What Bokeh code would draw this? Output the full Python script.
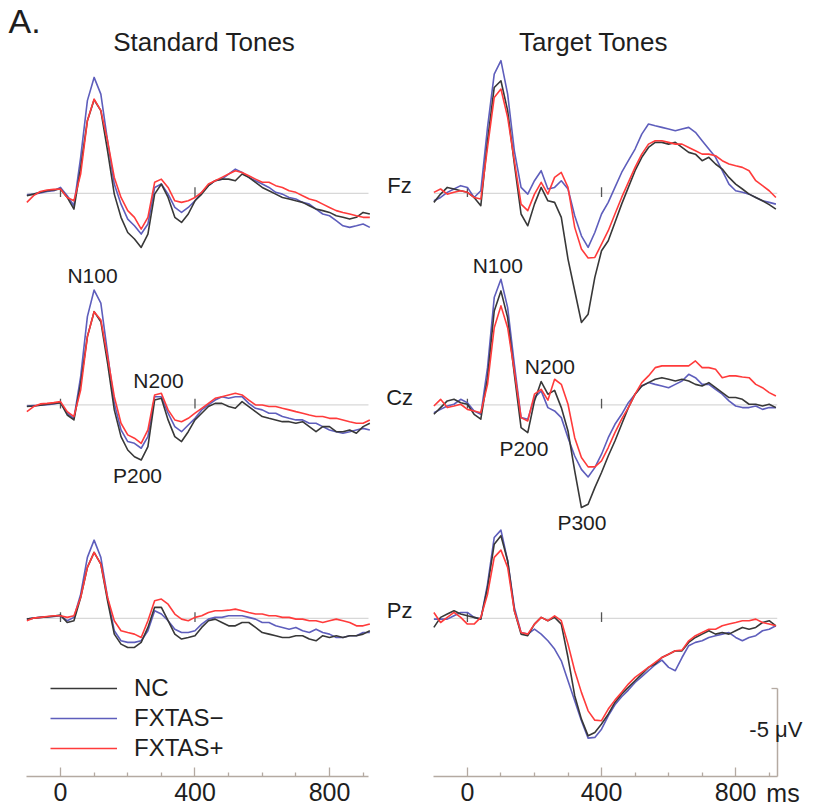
import numpy as np
from bokeh.plotting import figure
from bokeh.layouts import row
from bokeh.models import Range1d, LinearAxis, FixedTicker, Label, Legend, LegendItem
from bokeh.embed import file_html
from bokeh.resources import INLINE

# ---------------- data (µV) ----------------
TIME_MS = list(range(-100, 921, 20))
GROUP_LABELS = ["NC", "FXTAS\u2212", "FXTAS+"]
CHANNELS = ["Fz", "Cz", "Pz"]
X_TICKS = [0, 400, 800]
X_MINOR_TICKS = [100, 200, 300, 500, 600, 700, 900]
BASELINE_MARKS = [0, 400]
SCALE_UV = 5

# Standard tones
STD_FZ_NC = [0.13, 0.04, -0.06, -0.15, -0.19, -0.25, 0.23, 0.89, -1.48, -4.13, -5.32, -4.70, -2.42, 0.04, 1.36, 2.22, 2.59, 3.07, 2.31, 0.04, -0.53, 0.23, 1.36, 1.65, 1.17, 0.42, 0.04, -0.44, -0.72, -0.81, -0.81, -0.72, -1.10, -0.91, -0.63, -0.34, -0.15, 0.04, 0.23, 0.32, 0.42, 0.51, 0.70, 0.89, 0.98, 1.08, 1.27, 1.36, 1.46, 1.36, 1.08, 1.17]
STD_FZ_FXN = [0.08, 0.04, -0.02, -0.11, -0.15, -0.34, 0.13, 0.70, -2.05, -5.27, -6.59, -5.64, -2.99, -0.53, 0.61, 1.46, 1.84, 2.31, 1.74, -0.34, -0.53, 0.04, 0.80, 1.08, 0.80, 0.42, -0.06, -0.44, -0.72, -0.81, -1.10, -1.38, -1.19, -0.91, -0.72, -0.53, -0.34, -0.06, 0.04, 0.23, 0.32, 0.51, 0.61, 0.89, 1.17, 1.27, 1.55, 1.84, 1.93, 1.84, 1.74, 1.93]
STD_FZ_FXP = [0.51, 0.13, -0.11, -0.19, -0.23, -0.25, 0.23, 0.42, -1.10, -4.13, -5.36, -4.70, -2.99, -0.91, 0.23, 0.98, 1.36, 2.03, 1.36, -0.63, -0.81, -0.34, 0.42, 0.51, 0.42, 0.23, -0.06, -0.53, -0.72, -0.91, -1.10, -1.29, -1.19, -1.00, -0.81, -0.63, -0.63, -0.44, -0.34, -0.15, -0.06, 0.13, 0.32, 0.42, 0.61, 0.80, 0.98, 1.08, 1.17, 1.27, 1.36, 1.36]

STD_CZ_NC = [0.09, 0.06, 0.02, -0.04, -0.09, -0.13, 0.57, 0.85, -1.23, -3.88, -5.30, -4.73, -2.37, 0.28, 1.80, 2.56, 2.94, 3.13, 2.37, -0.28, -0.38, 0.85, 1.80, 2.08, 1.52, 0.85, 0.47, 0.09, -0.09, -0.09, 0.09, 0.19, -0.19, 0.09, 0.38, 0.66, 0.76, 0.85, 0.95, 0.95, 1.04, 0.95, 1.23, 1.52, 1.23, 1.23, 1.52, 1.52, 1.42, 1.61, 1.23, 1.04]
STD_CZ_FXN = [0.06, 0.04, 0.02, -0.02, -0.06, -0.13, 0.47, 0.76, -1.61, -5.02, -6.53, -5.78, -2.94, -0.09, 1.42, 2.08, 2.18, 2.46, 1.80, -0.47, -0.47, 0.47, 1.23, 1.52, 1.14, 0.76, 0.28, 0.00, -0.28, -0.47, -0.38, -0.47, -0.47, -0.09, 0.19, 0.28, 0.47, 0.47, 0.66, 0.76, 0.85, 0.85, 1.04, 1.04, 1.23, 1.42, 1.52, 1.61, 1.52, 1.42, 1.33, 1.42]
STD_CZ_FXP = [0.38, 0.09, -0.06, -0.09, -0.13, -0.19, 0.38, 0.66, -0.85, -3.88, -5.30, -4.83, -2.75, -0.47, 1.04, 1.70, 1.89, 2.18, 1.42, -0.57, -0.66, 0.28, 0.85, 0.95, 0.76, 0.47, 0.19, -0.09, -0.38, -0.47, -0.57, -0.66, -0.57, -0.28, 0.00, 0.00, 0.09, 0.09, 0.19, 0.28, 0.38, 0.47, 0.57, 0.66, 0.66, 0.76, 0.76, 0.85, 0.95, 1.04, 1.04, 0.85]

STD_PZ_NC = [0.04, -0.02, -0.06, -0.09, -0.13, -0.19, 0.23, 0.13, -1.19, -2.90, -3.75, -3.09, -1.00, 0.89, 1.46, 1.65, 1.65, 1.36, 0.51, -0.63, -0.63, 0.13, 0.89, 1.17, 1.08, 0.98, 0.51, 0.13, 0.04, 0.23, 0.42, 0.42, 0.23, 0.23, 0.51, 0.80, 0.89, 0.98, 1.08, 1.08, 0.98, 0.98, 1.17, 1.27, 0.98, 1.08, 0.98, 1.08, 0.98, 0.98, 0.89, 0.70]
STD_PZ_FXN = [0.04, -0.02, -0.06, -0.09, -0.11, -0.15, 0.13, -0.06, -1.38, -3.47, -4.45, -3.47, -1.19, 0.70, 1.27, 1.36, 1.36, 1.27, 0.70, -0.44, -0.25, 0.13, 0.61, 0.80, 0.80, 0.70, 0.32, 0.04, -0.06, -0.06, -0.15, -0.15, -0.15, -0.06, 0.04, 0.23, 0.23, 0.42, 0.51, 0.61, 0.51, 0.70, 0.80, 0.61, 0.80, 0.89, 1.08, 1.08, 0.98, 0.98, 0.80, 0.80]
STD_PZ_FXP = [0.13, -0.02, -0.06, -0.11, -0.15, -0.15, -0.06, -0.15, -1.19, -2.90, -3.75, -3.09, -1.19, 0.13, 0.70, 0.80, 0.89, 1.08, 0.13, -1.00, -1.10, -0.81, -0.25, 0.04, 0.13, -0.06, -0.15, -0.34, -0.44, -0.44, -0.47, -0.53, -0.44, -0.34, -0.25, -0.25, -0.15, -0.15, -0.06, -0.06, 0.04, 0.04, 0.13, 0.13, 0.23, 0.13, 0.04, 0.13, 0.23, 0.42, 0.42, 0.32]

# Target tones
TGT_FZ_NC = [0.51, 0.04, -0.34, -0.25, -0.15, -0.06, 0.23, 0.70, -2.99, -6.02, -6.40, -4.70, -1.67, 1.17, 1.84, 0.61, -0.34, 0.42, 0.51, 1.36, 3.73, 5.53, 7.33, 6.86, 4.77, 3.26, 2.69, 1.65, 0.61, -0.34, -1.29, -2.05, -2.61, -2.90, -2.90, -2.80, -2.90, -2.61, -2.33, -2.23, -1.86, -2.05, -1.67, -1.38, -0.91, -0.53, -0.25, 0.04, 0.23, 0.42, 0.64, 0.89]
TGT_FZ_FXN = [0.42, 0.23, -0.06, -0.25, -0.44, -0.34, 0.23, -0.15, -3.75, -6.78, -7.54, -5.64, -2.42, -0.34, 0.04, -0.72, -1.29, -0.25, -0.34, -0.72, -0.25, 1.27, 2.41, 3.07, 2.22, 1.17, 0.51, -0.34, -1.19, -1.86, -2.52, -3.37, -3.94, -3.84, -3.75, -3.66, -3.56, -3.66, -3.75, -3.47, -2.99, -2.52, -2.05, -1.29, -0.53, -0.15, -0.06, 0.04, 0.23, 0.42, 0.51, 0.61]
TGT_FZ_FXP = [-0.06, -0.25, 0.04, -0.06, -0.15, -0.06, 0.23, 0.32, -2.61, -5.45, -5.93, -4.32, -1.86, 0.61, 0.98, 0.04, -0.63, 0.04, -0.91, -1.19, -0.34, 1.93, 3.16, 3.67, 3.64, 2.88, 2.12, 1.17, 0.23, -0.63, -1.48, -2.23, -2.80, -2.99, -2.99, -2.90, -2.80, -2.80, -2.61, -2.42, -2.23, -2.23, -2.14, -1.86, -1.67, -1.57, -1.48, -1.29, -0.72, -0.44, -0.15, 0.23]

TGT_CZ_NC = [0.53, 0.15, -0.23, -0.32, -0.13, -0.04, 0.53, 0.81, -1.55, -5.34, -6.48, -4.96, -1.74, 1.29, 1.57, -0.23, -1.33, -0.61, -0.83, 0.15, 1.48, 3.75, 5.83, 5.64, 4.70, 3.84, 2.90, 2.05, 1.10, 0.15, -0.61, -1.08, -1.27, -1.46, -1.55, -1.46, -1.36, -1.46, -1.36, -1.17, -1.08, -1.27, -0.98, -0.70, -0.42, -0.42, -0.32, -0.04, -0.04, 0.06, -0.04, 0.15]
TGT_CZ_FXN = [0.44, 0.25, 0.06, -0.04, -0.32, -0.13, 0.34, 0.53, -2.12, -6.10, -7.14, -5.53, -2.31, 0.72, 0.81, -0.42, -0.80, 0.15, 0.34, 0.72, 1.86, 2.90, 3.66, 4.09, 3.56, 2.80, 1.86, 1.10, 0.53, -0.13, -0.61, -1.08, -1.27, -1.17, -1.08, -0.98, -1.17, -1.36, -1.74, -1.55, -1.17, -1.17, -0.89, -0.61, -0.23, 0.06, 0.15, 0.15, 0.06, 0.25, 0.15, 0.15]
TGT_CZ_FXP = [0.06, -0.32, 0.15, 0.06, -0.04, 0.25, 0.34, 0.44, -1.17, -4.39, -5.63, -4.39, -1.93, 0.72, 0.91, -0.61, -0.89, -0.27, -1.46, -1.17, -0.04, 1.86, 2.99, 3.52, 3.52, 3.18, 2.42, 1.57, 0.81, 0.15, -0.61, -1.27, -1.65, -2.12, -2.22, -2.22, -2.22, -2.22, -2.22, -2.50, -2.12, -2.12, -2.03, -1.55, -1.65, -1.65, -1.59, -1.55, -1.17, -0.98, -0.70, -0.51]

TGT_PZ_NC = [0.51, -0.06, -0.25, -0.44, -0.25, -0.15, -0.06, 0.04, -1.76, -4.22, -4.70, -3.28, -0.44, 0.89, 0.98, 0.32, -0.06, 0.13, -0.06, 0.32, 2.22, 4.39, 5.72, 6.67, 6.48, 6.00, 5.44, 4.77, 4.30, 3.92, 3.54, 3.16, 2.78, 2.59, 2.22, 2.03, 1.84, 1.84, 1.36, 1.08, 0.89, 0.70, 0.89, 0.80, 0.89, 0.70, 0.51, 0.61, 0.51, 0.23, 0.13, 0.42]
TGT_PZ_FXN = [0.04, 0.04, 0.04, -0.15, -0.34, -0.34, -0.06, 0.04, -1.95, -4.60, -5.02, -3.28, -0.63, 0.80, 0.89, 0.61, 0.89, 1.27, 1.74, 2.41, 3.54, 4.68, 5.81, 6.80, 6.76, 6.29, 5.53, 4.91, 4.45, 4.07, 3.64, 3.31, 2.97, 2.63, 2.37, 2.78, 2.97, 2.22, 1.55, 1.36, 1.27, 1.08, 0.98, 0.89, 0.80, 1.08, 1.27, 1.08, 0.98, 0.70, 0.61, 0.42]
TGT_PZ_FXP = [-0.34, 0.23, -0.06, -0.34, -0.06, 0.32, 0.32, -0.06, -1.38, -3.47, -3.88, -2.90, -0.44, 0.80, 0.89, 0.32, -0.06, 0.13, -0.15, 0.13, 1.46, 2.97, 4.20, 5.25, 5.78, 5.81, 5.15, 4.64, 4.20, 3.73, 3.35, 3.07, 2.78, 2.50, 2.22, 2.03, 1.84, 1.80, 1.27, 0.98, 0.80, 0.61, 0.61, 0.42, 0.32, 0.23, 0.13, 0.13, 0.04, 0.23, 0.32, 0.42]

STANDARD = {"Fz": [STD_FZ_NC, STD_FZ_FXN, STD_FZ_FXP],
            "Cz": [STD_CZ_NC, STD_CZ_FXN, STD_CZ_FXP],
            "Pz": [STD_PZ_NC, STD_PZ_FXN, STD_PZ_FXP]}
TARGET = {"Fz": [TGT_FZ_NC, TGT_FZ_FXN, TGT_FZ_FXP],
          "Cz": [TGT_CZ_NC, TGT_CZ_FXN, TGT_CZ_FXP],
          "Pz": [TGT_PZ_NC, TGT_PZ_FXN, TGT_PZ_FXP]}

# ---------------- layout / style ----------------
FONT = "Liberation Sans"
TXT = "#1e1e1e"
AXIS_COLOR = "#b4aaa2"
COLORS = ["#383838", "#5e5ebc", "#ff3b3b"]
DRAW_ORDER = [1, 0, 2]
OFFSET = {"Fz": 33.13, "Cz": 21.11, "Pz": 8.98}   # vertical stacking of channels
Y_RANGE = (-1.705, 44.09)
H = 806


def make_panel(width, x_range, bounds, data):
    p = figure(width=width, height=H, x_range=Range1d(*x_range), y_range=Range1d(*Y_RANGE),
               output_backend="svg", toolbar_location=None, y_axis_location=None,
               min_border_left=0, min_border_right=0, min_border_top=0, min_border_bottom=0)
    p.grid.visible = False
    p.outline_line_color = None
    p.background_fill_color = "white"
    p.border_fill_color = "white"
    xa = p.xaxis[0]
    xa.fixed_location = 0
    xa.bounds = bounds
    xa.ticker = FixedTicker(ticks=X_TICKS, minor_ticks=X_MINOR_TICKS)
    xa.axis_line_color = AXIS_COLOR
    xa.axis_line_width = 1.5
    xa.major_tick_line_color = AXIS_COLOR
    xa.minor_tick_line_color = AXIS_COLOR
    xa.major_tick_line_width = 1.3
    xa.minor_tick_line_width = 1.3
    xa.major_tick_in = 9
    xa.major_tick_out = 0
    xa.minor_tick_in = 4
    xa.minor_tick_out = 0
    xa.major_label_standoff = 7
    xa.major_label_text_font = FONT
    xa.major_label_text_font_size = "25px"
    xa.major_label_text_color = TXT

    renderers = {}
    for ch in CHANNELS:
        off = OFFSET[ch]
        p.segment(x0=[bounds[0]], x1=[bounds[1]], y0=[off], y1=[off],
                  line_color="#d8d8d8", line_width=1.2)
        p.segment(x0=BASELINE_MARKS, x1=BASELINE_MARKS,
                  y0=[off - 0.2] * len(BASELINE_MARKS), y1=[off + 0.35] * len(BASELINE_MARKS),
                  line_color="#555555", line_width=1.3)
        for gi in DRAW_ORDER:
            vals = np.array(data[ch][gi])
            r = p.line(TIME_MS, off - vals, line_color=COLORS[gi], line_width=1.6,
                       line_join="round")
            if ch == "Pz":
                renderers[gi] = r
    return p, renderers


def lab(p, x, y, text, size, align="center"):
    p.add_layout(Label(x=x, y=y, text=text, text_font=FONT, text_font_size=size,
                       text_color=TXT, text_align=align, text_baseline="middle"))


# left panel: Standard tones
left, rends = make_panel(376, (-178.4, 939.8), (-100, 916), STANDARD)
lab(left, -154.6, 42.9, "A.", "34px", align="left")
lab(left, 156.7, 41.76, "Standard Tones", "26px", align="left")
lab(left, 95.2, 28.47, "N100", "21px")
lab(left, 291.4, 22.5, "N200", "21px")
lab(left, 229.0, 17.1, "P200", "21px")

legend = Legend(items=[LegendItem(label=GROUP_LABELS[i], renderers=[rends[i]]) for i in range(3)],
                location=(50, 43), orientation="vertical", border_line_color=None,
                background_fill_alpha=0, padding=0, margin=0, spacing=0,
                glyph_width=67, glyph_height=30, label_height=30, label_standoff=17,
                label_text_font=FONT, label_text_font_size="24px", label_text_color=TXT)
left.add_layout(legend)

# right panel: Target tones
right, _ = make_panel(438, (-271.1, 1035.1), (-100, 924), TARGET)
scale_axis = LinearAxis(fixed_location=924, bounds=(0, SCALE_UV), ticker=FixedTicker(ticks=[SCALE_UV]),
                        major_tick_in=6, major_tick_out=0, minor_tick_in=0, minor_tick_out=0,
                        axis_line_color=AXIS_COLOR, axis_line_width=1.5,
                        major_tick_line_color=AXIS_COLOR, major_tick_line_width=1.3,
                        major_label_overrides={SCALE_UV: ""})
right.add_layout(scale_axis, "right")

lab(right, 154.2, 41.76, "Target Tones", "26px", align="left")
for ch in CHANNELS:
    lab(right, -202.3, OFFSET[ch] + 0.45, ch, "22px")
lab(right, 90.6, 29.03, "N100", "21px")
lab(right, 246.0, 23.3, "N200", "21px")
lab(right, 168.5, 18.64, "P200", "21px")
lab(right, 341.6, 14.43, "P300", "21px")
lab(right, 840.7, 2.67, "-5 \u03bcV", "22px", align="left")
lab(right, 891.5, -0.91, "ms", "25px", align="left")

page = row(left, right)
open("out.html", "w").write(file_html(page, INLINE))
